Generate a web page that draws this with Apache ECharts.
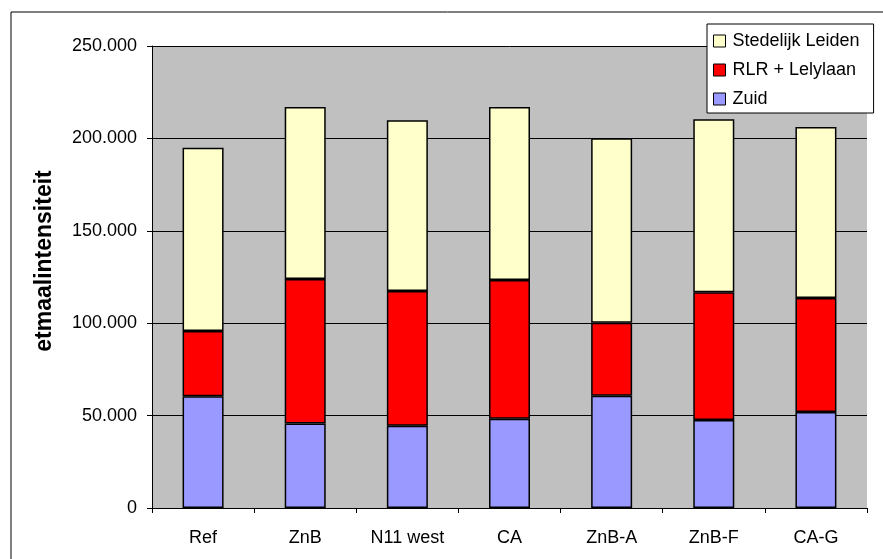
<!DOCTYPE html>
<html>
<head>
<meta charset="utf-8">
<script src="https://cdn.jsdelivr.net/npm/echarts@6/dist/echarts.min.js"></script>
<style>
html,body{margin:0;padding:0;background:#fff;}
#chart{width:883px;height:559px;}
</style>
</head>
<body>
<div id="chart"></div>
<script>
const categories = ['Ref', 'ZnB', 'N11 west', 'CA', 'ZnB-A', 'ZnB-F', 'CA-G'];
const seriesNames = ['Zuid', 'RLR + Lelylaan', 'Stedelijk Leiden'];
const zuid = [60500, 45700, 44500, 48300, 60700, 47600, 52000];
const rlrLelylaan = [35300, 78200, 72900, 75100, 39600, 69100, 61600];
const stedelijkLeiden = [99100, 93100, 92400, 93600, 99800, 93700, 92600];
const yTicks = [0, 50000, 100000, 150000, 200000, 250000];
const yTitle = 'etmaalintensiteit';

const font = 'Liberation Sans, Arial, sans-serif';
function fmt(v){ return String(v).replace(/\B(?=(\d{3})+(?!\d))/g, '.'); }

const colors = ['#9999FF', '#FF0000', '#FFFFCC'];
const values = [zuid, rlrLelylaan, stedelijkLeiden];

const chart = echarts.init(document.getElementById('chart'));
chart.setOption({
  animation: false,
  backgroundColor: '#ffffff',
  textStyle: { fontFamily: font },
  graphic: [{
    type: 'rect', z: -1,
    shape: { x: 11, y: 12, width: 900, height: 600 },
    style: { fill: 'none', stroke: '#000', lineWidth: 1 }
  }, {
    type: 'text',
    x: 45, y: 261,
    rotation: Math.PI / 2,
    style: {
      text: yTitle, fill: '#000',
      font: 'bold 23px ' + font,
      align: 'center', verticalAlign: 'middle'
    }
  }],
  grid: { left: 152, right: 16, top: 46, bottom: 51, show: true, backgroundColor: '#C0C0C0', borderWidth: 0 },
  legend: {
    data: [seriesNames[2], seriesNames[1], seriesNames[0]],
    orient: 'vertical',
    left: 707, top: 24,
    padding: [8, 14, 5, 6],
    itemGap: 11,
    itemWidth: 12, itemHeight: 12,
    icon: 'rect',
    backgroundColor: '#ffffff',
    borderColor: '#000', borderWidth: 1,
    itemStyle: { borderWidth: 1, borderColor: '#000' },
    textStyle: { fontFamily: font, fontSize: 18, color: '#000', padding: [0, 0, 0, 2] }
  },
  xAxis: {
    type: 'category',
    data: categories,
    axisLine: { lineStyle: { color: '#000', width: 1 } },
    axisTick: { show: true, length: 5, lineStyle: { color: '#000' } },
    axisLabel: { color: '#000', fontSize: 18, fontFamily: font, margin: 21 },
    splitLine: { show: false }
  },
  yAxis: {
    type: 'value',
    min: 0, max: 250000, interval: 50000,
    axisLine: { show: true, lineStyle: { color: '#000', width: 1 } },
    axisTick: { show: true, length: 5, lineStyle: { color: '#000' } },
    axisLabel: { color: '#000', fontSize: 18, fontFamily: font, margin: 15,
      formatter: v => yTicks.includes(v) ? fmt(v) : '' },
    splitLine: { show: true, lineStyle: { color: '#000', width: 1 } }
  },
  series: values.map((arr, i) => ({
    name: seriesNames[i],
    type: 'bar',
    stack: 'total',
    barWidth: 41,
    data: arr,
    itemStyle: { color: colors[i], borderColor: '#000', borderWidth: 1.5 }
  }))
});
</script>
</body>
</html>
